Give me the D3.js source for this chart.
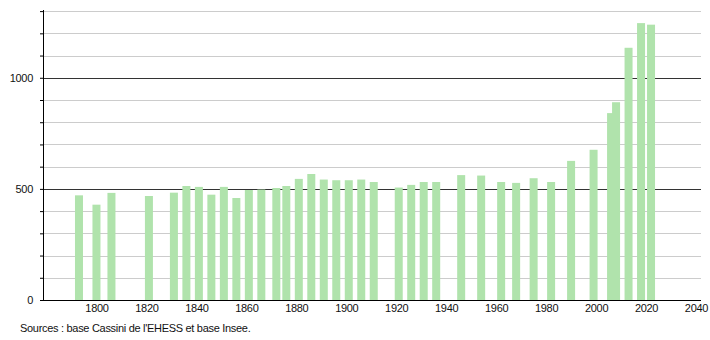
<!DOCTYPE html>
<html>
<head>
<meta charset="utf-8">
<script src="https://cdn.jsdelivr.net/npm/d3@7"></script>
<style>
  body { margin: 0; background: #fff; }
  svg { display: block; font-family: "Liberation Sans", Arial, sans-serif; }
  .grid line { shape-rendering: crispEdges; }
</style>
</head>
<body>
<svg width="710" height="340"></svg>
<script>
'use strict'

// census years and population
var years = [1793, 1800, 1806, 1821, 1831, 1836, 1841, 1846, 1851, 1856,
  1861, 1866, 1872, 1876, 1881, 1886, 1891, 1896, 1901, 1906,
  1911, 1921, 1926, 1931, 1936, 1946, 1954, 1962, 1968, 1975,
  1982, 1990, 1999, 2006, 2008, 2013, 2018, 2022]
var population = [471, 429, 482, 468, 483, 513, 509, 474, 509, 459,
  495, 497, 504, 513, 545, 567, 542, 539, 539, 542,
  531, 506, 518, 531, 531, 562, 560, 531, 527, 548,
  531, 626, 676, 841, 890, 1135, 1246, 1239]

var xTicks = [1800, 1820, 1840, 1860, 1880, 1900, 1920, 1940, 1960, 1980, 2000, 2020, 2040]
var yTicks = [0, 100, 200, 300, 400, 500, 600, 700, 800, 900, 1000, 1100, 1200, 1300]
var yLabels = [0, 500, 1000]
var source = "Sources : base Cassini de l'EHESS et base Insee."

var svg = d3.select("svg")

var config = {
  left: 44,
  right: 701,
  top: 10,
  bottom: 300,
  barWidth: 8
}

var x = d3.scaleLinear().domain([1779, 2042]).range([config.left, config.right])
var y = d3.scaleLinear().domain([0, 1305]).range([config.bottom, config.top])

var data = years.map(function(d, i) {
  return { year: d, value: population[i] }
})

// grid lines
svg.append("g")
  .attr("class", "grid")
  .selectAll("line")
  .data(yTicks.filter(function(d) { return d > 0 }))
  .enter().append("line")
  .attr("x1", config.left)
  .attr("x2", config.right)
  .attr("y1", function(d) { return Math.round(y(d)) + 0.5 })
  .attr("y2", function(d) { return Math.round(y(d)) + 0.5 })
  .attr("stroke", function(d) { return d % 500 == 0 ? "#333" : "#ccc" })
  .attr("stroke-width", 1)

// bars
svg.append("g")
  .selectAll("rect")
  .data(data)
  .enter().append("rect")
  .attr("x", function(d) { return x(d.year) - config.barWidth / 2 })
  .attr("width", config.barWidth)
  .attr("y", function(d) { return y(d.value) })
  .attr("height", function(d) { return y(0) - y(d.value) })
  .attr("fill", "#b0e3ac")

// x axis
var xAxis = svg.append("g")
  .attr("transform", "translate(0," + config.bottom + ")")
  .call(d3.axisBottom(x)
    .tickValues(xTicks)
    .tickFormat(d3.format("d"))
    .tickSize(0)
    .tickPadding(4)
  )
xAxis.select(".domain").attr("d", "M" + config.left + ",0.5H" + config.right).attr("stroke", "#000")

// y axis
var yAxis = svg.append("g")
  .attr("transform", "translate(" + config.left + ",0)")
  .call(d3.axisLeft(y)
    .tickValues(yTicks)
    .tickFormat(function(d) { return yLabels.indexOf(d) >= 0 ? d : "" })
    .tickSize(4)
    .tickPadding(7)
  )
yAxis.select(".domain").attr("d", "M-0.5," + config.bottom + "V" + config.top).attr("stroke", "#000")

svg.selectAll(".tick text").attr("font-size", 11).attr("fill", "#111")
  .attr("font-family", '"Liberation Sans", Arial, sans-serif')
  .attr("letter-spacing", -0.3)

svg.append("text")
  .attr("x", 20)
  .attr("y", 332)
  .attr("font-size", 11)
  .attr("letter-spacing", -0.3)
  .attr("fill", "#111")
  .text(source)
</script>
</body>
</html>
